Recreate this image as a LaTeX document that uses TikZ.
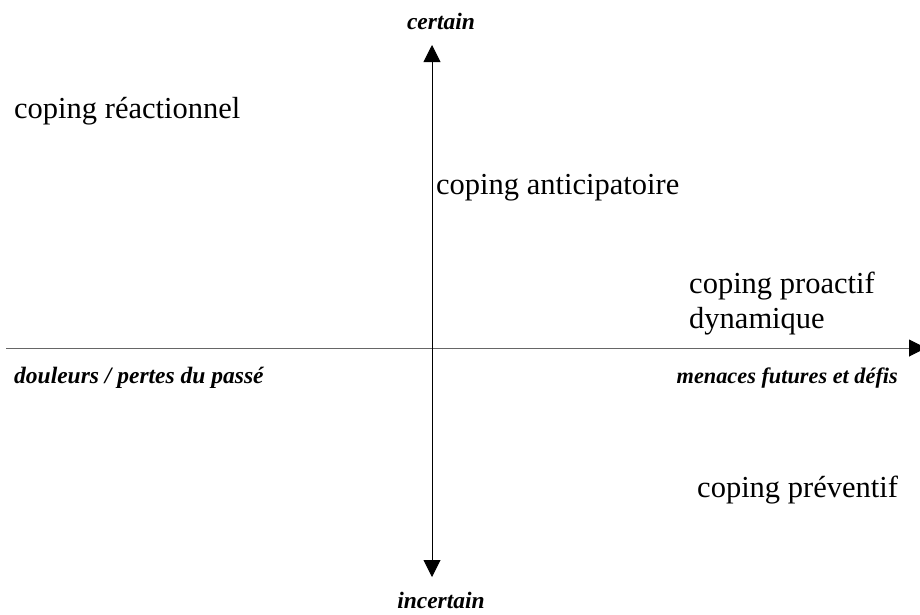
\documentclass[tikz,border=0pt]{standalone}
\usepackage{fontspec}
\setmainfont{Liberation Serif}
\usetikzlibrary{arrows.meta}
\begin{document}
\begin{tikzpicture}[x=1pt,y=-1pt,
  lbl/.style={font=\fontsize{30.5}{35}\selectfont, inner sep=0pt, anchor=west},
  axlbl/.style={font=\fontsize{23.5}{27}\selectfont\bfseries\itshape, inner sep=0pt},
  axis/.style={-{Triangle[length=17pt,width=17pt,color=black]}, line width=0.9pt}]
\useasboundingbox (0,0) rectangle (920,614);
\coordinate (hl) at (6,348);
\coordinate (hr) at (926,348);
\coordinate (vb) at (432,200);
\coordinate (vt) at (432,45);
\coordinate (vd) at (432,577);
\draw[axis, draw=black!60] (hl) -- (hr);
\draw[axis] (vb) -- (vt);
\draw[axis] (vb) -- (vd);
\node[axlbl] (cert) at (441,21) {certain};
\node[axlbl] (incert) at (441,600) {incertain};
\node[axlbl, anchor=west] (past) at (14,378) {douleurs / pertes du passé};
\node[axlbl, anchor=east, font=\fontsize{22.3}{26}\selectfont\bfseries\itshape] (fut) at (898,378) {menaces futures et défis};
\node[lbl] (reac) at (14,111) {coping réactionnel};
\node[lbl] (anti) at (436,188) {coping anticipatoire};
\node[lbl, align=left] (proa) at (689,304) {coping proactif\\dynamique};
\node[lbl] (prev) at (697,490) {coping préventif};
\end{tikzpicture}
\end{document}
